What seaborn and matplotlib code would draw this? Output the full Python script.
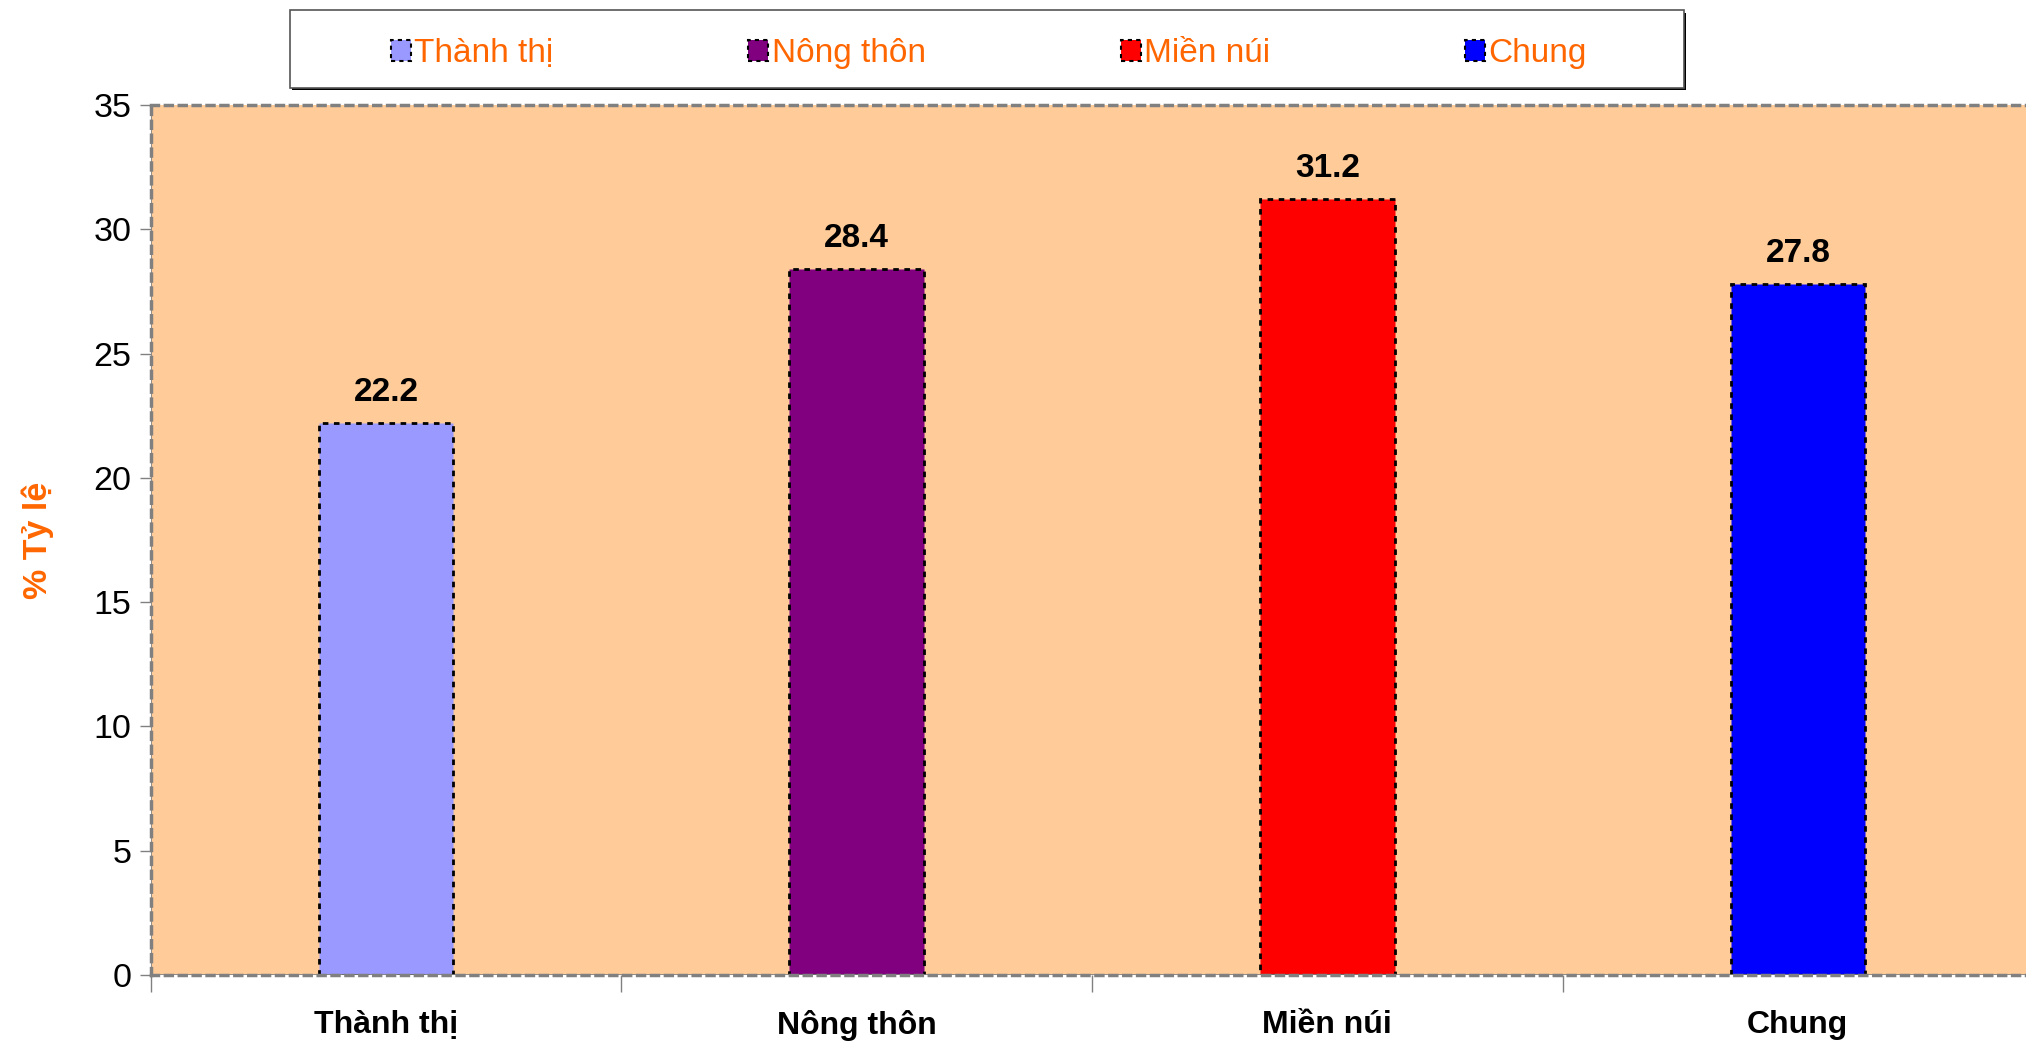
import matplotlib
matplotlib.use("Agg")
import matplotlib.pyplot as plt
from matplotlib.patches import Patch, Rectangle
import seaborn as sns
import pandas as pd

# dữ liệu
categories = ["Thành thị", "Nông thôn", "Miền núi", "Chung"]
values = [22.2, 28.4, 31.2, 27.8]
colors = ["#9999FF", "#800080", "#FF0000", "#0000FF"]
y_ticks = [0, 5, 10, 15, 20, 25, 30, 35]

df = pd.DataFrame({"Khu vực": categories, "Tỷ lệ": values})

sns.set_theme(style="white")
plt.rcParams["font.family"] = ["Liberation Sans", "DejaVu Sans"]

fig = plt.figure(figsize=(20.26, 10.42), dpi=100)
ax = fig.add_axes([0.0745, 0.0643, 0.929, 0.835])
ax.set_facecolor("#FFCC99")

sns.barplot(data=df, x="Khu vực", y="Tỷ lệ", hue="Khu vực", palette=colors,
            width=0.286, saturation=1, legend=False, ax=ax)

for bar in ax.patches:
    bar.set_edgecolor("black")
    bar.set_linestyle((0, (2, 2)))
    bar.set_linewidth(2)

for cont in ax.containers:
    ax.bar_label(cont, fmt="%.1f", padding=11, fontsize=24, fontweight="bold", color="black")

ax.set_xlim(-0.5, 3.5)
ax.set_ylim(0, 35)
ax.set_yticks(y_ticks)
ax.tick_params(axis="y", labelsize=24.5, length=8, width=1, color="#808080", direction="out",
               left=True, pad=6, labelcolor="black")

ax.set_xticks(range(len(categories)))
ax.set_xticklabels(categories, fontsize=23, fontweight="bold")
ax.tick_params(axis="x", which="major", length=0, pad=25, labelcolor="black")
ax.set_xticks([i - 0.5 for i in range(len(categories) + 1)], minor=True)
ax.tick_params(axis="x", which="minor", length=12, width=1, color="#808080", direction="out", bottom=True)

ax.set_xlabel("")
ax.set_ylabel("% Tỷ lệ", fontsize=24.5, fontweight="bold", color="#FF6600")
ax.yaxis.set_label_coords(-0.0515, 0.5)

for side in ["top", "bottom", "left", "right"]:
    ax.spines[side].set_visible(True)
    ax.spines[side].set_color("#808080")
    ax.spines[side].set_linewidth(2.5)
    ax.spines[side].set_linestyle((0, (2, 2)))
ax.axvline(-0.5, color="#808080", lw=1.2, zorder=5)
ax.axhline(0, color="#808080", lw=1.2, zorder=5)

# khung chú giải
box_x, box_y, box_w, box_h = 0.143, 0.9155, 0.688, 0.0745
fig.patches.append(Rectangle((box_x + 0.001, box_y - 0.002), box_w, box_h, transform=fig.transFigure,
                             facecolor="black", edgecolor="none", zorder=0))
fig.patches.append(Rectangle((box_x, box_y), box_w, box_h, transform=fig.transFigure,
                             facecolor="white", edgecolor="#555555", linewidth=1.2, zorder=1))

handles = [Patch(facecolor=c, edgecolor="black", linestyle=(0, (2, 2)), linewidth=1.5, label=l)
           for c, l in zip(colors, categories)]
leg = fig.legend(handles=handles, loc="center",
                 bbox_to_anchor=(box_x + box_w / 2 + 0.001, box_y + box_h / 2 - 0.004),
                 ncol=4, frameon=False, fontsize=24, handlelength=0.6, handleheight=0.6,
                 handletextpad=0.1, columnspacing=5.85, borderaxespad=0)
for t in leg.get_texts():
    t.set_color("#FF6600")

fig.savefig("out.png", dpi=100)
